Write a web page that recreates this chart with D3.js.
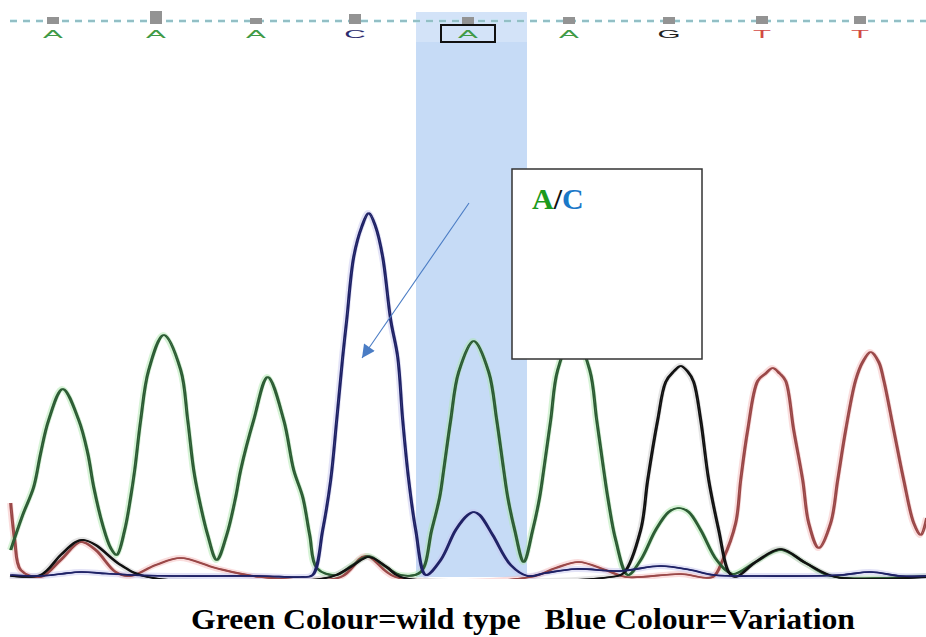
<!DOCTYPE html>
<html>
<head>
<meta charset="utf-8">
<script src="https://cdn.jsdelivr.net/npm/d3@7"></script>
<style>
  body { margin: 0; background: #fff; }
  svg { display: block; }
</style>
</head>
<body>
<div id="chart"></div>
<script>
// base calls along the read
const baseCalls = ["A", "A", "A", "C", "A", "A", "G", "T", "T"];
const basePositions = [53, 156, 256, 355, 468, 569, 669, 762, 860]; // scan
const baseQuality = [21, 39, 18, 30, 21, 21, 21, 24, 24];
const selectedBase = 4;

// traces: [scan, signal]
const traceA = [[10,108],[22,248],[33,360],[40,496],[48,628],[62,752],[78,628],[87,496],[93,360],[102,208],[110,116],[116,88],[124,188],[130,320],[134,428],[140,628],[148,828],[163,968],[180,828],[187,628],[193,428],[198,320],[207,168],[216,68],[226,168],[235,320],[240,428],[253,628],[267,800],[283,628],[293,428],[302,320],[309,168],[316,36],[335,8],[352,48],[368,84],[384,44],[400,8],[420,20],[431,188],[439,320],[443,428],[450,628],[458,820],[473,944],[488,820],[496,628],[503,428],[507,320],[514,188],[523,60],[532,188],[539,320],[543,428],[550,628],[557,828],[573,972],[589,828],[596,628],[603,428],[607,320],[615,148],[627,8],[640,68],[655,188],[668,260],[678,276],[688,260],[700,188],[716,68],[732,12],[755,60],[780,108],[805,56],[830,4],[926,4]];
const traceC = [[10,8],[40,4],[60,12],[80,20],[105,14],[130,8],[180,4],[260,4],[300,0],[312,8],[322,188],[330,388],[336,628],[342,880],[346,1028],[353,1280],[361,1400],[368,1456],[375,1400],[382,1280],[390,1028],[397,880],[402,628],[408,388],[415,188],[425,8],[440,68],[455,188],[467,248],[473,260],[479,248],[492,168],[510,48],[527,4],[545,16],[575,32],[620,24],[660,44],[690,28],[713,8],[760,4],[840,8],[870,20],[900,4],[926,4]];
const traceG = [[10,4],[40,8],[60,88],[75,140],[83,148],[95,128],[120,48],[147,0],[330,0],[350,40],[368,80],[386,40],[400,0],[610,0],[623,16],[640,188],[647,388],[657,628],[665,780],[673,822],[680,844],[687,822],[693,780],[700,628],[708,388],[718,188],[728,20],[735,0],[755,60],[780,112],[805,56],[835,0],[926,0]];
const traceT = [[10,296],[14,148],[20,28],[40,0],[60,68],[80,140],[95,108],[115,20],[130,4],[155,48],[180,76],[215,36],[260,0],[340,0],[365,84],[395,0],[530,0],[555,36],[578,60],[605,28],[625,0],[680,12],[712,0],[722,68],[735,216],[740,388],[747,588],[757,784],[765,814],[772,836],[779,814],[785,784],[793,588],[802,388],[808,216],[818,116],[830,216],[837,388],[845,588],[855,788],[862,860],[870,900],[878,860],[883,788],[893,588],[903,388],[913,216],[920,168],[926,236]];

const styles = {
  A: {line: "#2c5c34", halo: "#aee8ae", text: "#3f9a46"},
  C: {line: "#1f2266", halo: "#c8c8f0", text: "#2c2c6e"},
  G: {line: "#111111", halo: "#cccccc", text: "#222222"},
  T: {line: "#9a4848", halo: "#f6bcbc", text: "#d24a44"}
};
const traces = [
  {base: "T", data: traceT},
  {base: "A", data: traceA},
  {base: "G", data: traceG},
  {base: "C", data: traceC}
];

// annotation (scan, signal)
const noteBox = {x0: 512, x1: 702, top: 1632, bottom: 872, label: ["A", "C"]};
const arrowFrom = [469, 1496];
const arrowTo = [362, 876];
const caption = "Green Colour=wild type   Blue Colour=Variation";

const width = 926, height = 637;
const svg = d3.select("#chart").append("svg")
  .attr("width", width)
  .attr("height", height);

const x = d3.scaleLinear().domain([10, 926]).range([10, 926]);
const y = d3.scaleLinear().domain([0, 2240]).range([577, 17]);
const q = d3.scaleLinear().domain([0, 60]).range([0, 20]);

// highlighted base column
const sel = basePositions[selectedBase];
svg.append("rect")
  .attr("x", x(sel - 52)).attr("y", 12)
  .attr("width", x(sel + 59) - x(sel - 52)).attr("height", y(0) - 12)
  .attr("fill", "#c6dbf6");
svg.append("rect")
  .attr("x", x(sel - 52)).attr("y", 12)
  .attr("width", x(sel + 59) - x(sel - 52)).attr("height", 30)
  .attr("fill", "#d3e3f8");

// header: dashed line, quality bars, base letters
svg.append("line")
  .attr("x1", 10).attr("x2", width)
  .attr("y1", 21).attr("y2", 21)
  .attr("stroke", "#b8e4ea").attr("stroke-width", 3)
  .attr("stroke-dasharray", "7 6");
svg.append("line")
  .attr("x1", 10).attr("x2", width)
  .attr("y1", 21).attr("y2", 21)
  .attr("stroke", "#6f9aa0").attr("stroke-width", 1.2)
  .attr("stroke-dasharray", "7 6");

svg.append("g")
  .selectAll("rect")
  .data(baseQuality)
  .join("rect")
    .attr("x", (d, i) => x(basePositions[i]) - 6)
    .attr("y", d => 24 - q(d))
    .attr("width", 12)
    .attr("height", d => q(d))
    .attr("fill", "#939393");

svg.append("g")
  .selectAll("text")
  .data(baseCalls)
  .join("text")
    .attr("transform", (d, i) => `translate(${x(basePositions[i])}, 38) scale(2.7, 1)`)
    .attr("text-anchor", "middle")
    .attr("font-family", "Liberation Sans, Arial, sans-serif")
    .attr("font-size", 11)
    .attr("fill", d => styles[d].text)
    .text(d => d);

svg.append("rect")
  .attr("x", x(sel) - 27).attr("y", 25)
  .attr("width", 54).attr("height", 17)
  .attr("fill", "none")
  .attr("stroke", "#111")
  .attr("stroke-width", 2);

// chromatogram traces (clipped at the baseline)
svg.append("clipPath").attr("id", "plot-clip")
  .append("rect")
    .attr("x", 0).attr("y", 0)
    .attr("width", width).attr("height", y(0) + 2);

const line = d3.line()
  .x(d => x(d[0]))
  .y(d => y(d[1]))
  .curve(d3.curveCatmullRom.alpha(0.5));

const plot = svg.append("g").attr("clip-path", "url(#plot-clip)");
traces.forEach(t => {
  plot.append("path")
    .datum(t.data)
    .attr("d", line)
    .attr("fill", "none")
    .attr("stroke", styles[t.base].halo)
    .attr("stroke-width", 6)
    .attr("stroke-opacity", 0.5)
    .attr("stroke-linejoin", "round");
});
traces.forEach(t => {
  [0, 1.4].forEach(dx => {
    plot.append("path")
      .datum(t.data)
      .attr("d", line)
      .attr("transform", `translate(${dx}, 0)`)
      .attr("fill", "none")
      .attr("stroke", styles[t.base].line)
      .attr("stroke-width", 1.7)
      .attr("stroke-linejoin", "round");
  });
});

// annotation box and arrow
svg.append("rect")
  .attr("x", x(noteBox.x0)).attr("y", y(noteBox.top))
  .attr("width", x(noteBox.x1) - x(noteBox.x0))
  .attr("height", y(noteBox.bottom) - y(noteBox.top))
  .attr("fill", "#fff")
  .attr("stroke", "#333")
  .attr("stroke-width", 1.5);

const label = svg.append("text")
  .attr("x", x(noteBox.x0) + 20)
  .attr("y", y(noteBox.top) + 40)
  .attr("font-family", "Liberation Serif, Times New Roman, serif")
  .attr("font-weight", "bold")
  .attr("font-size", 30);
label.append("tspan").attr("fill", "#1c9a1c").text(noteBox.label[0]);
label.append("tspan").attr("fill", "#111").text("/");
label.append("tspan").attr("fill", "#1a78c8").text(noteBox.label[1]);

svg.append("defs").append("marker")
  .attr("id", "head")
  .attr("viewBox", "0 0 10 10")
  .attr("refX", 10).attr("refY", 5)
  .attr("markerUnits", "userSpaceOnUse")
  .attr("markerWidth", 16).attr("markerHeight", 13)
  .attr("orient", "auto")
  .append("path")
    .attr("d", "M0,0 L10,5 L0,10 z")
    .attr("fill", "#4a7cc4");

svg.append("line")
  .attr("x1", x(arrowFrom[0])).attr("y1", y(arrowFrom[1]))
  .attr("x2", x(arrowTo[0])).attr("y2", y(arrowTo[1]))
  .attr("stroke", "#4a7cc4")
  .attr("stroke-width", 1.1)
  .attr("marker-end", "url(#head)");

// caption
svg.append("text")
  .attr("x", 523)
  .attr("y", 629)
  .attr("text-anchor", "middle")
  .attr("font-family", "Liberation Serif, Times New Roman, serif")
  .attr("font-weight", "bold")
  .attr("font-size", 29)
  .attr("textLength", 664)
  .attr("lengthAdjust", "spacingAndGlyphs")
  .attr("xml:space", "preserve")
  .style("white-space", "pre")
  .text(caption);
</script>
</body>
</html>
